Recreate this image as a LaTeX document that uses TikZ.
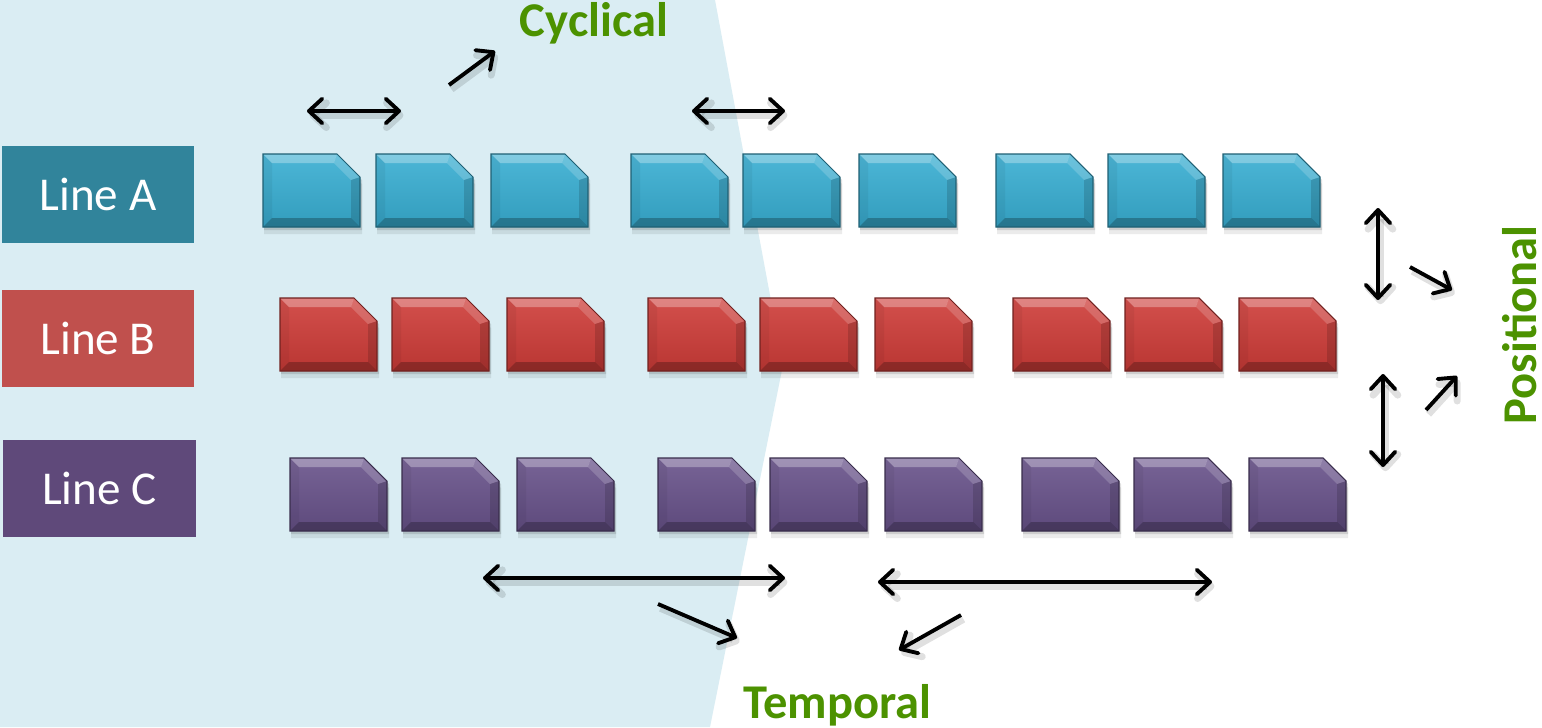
\documentclass[tikz,border=0pt]{standalone}
\usepackage{fontspec}
\setmainfont{Carlito}
\usetikzlibrary{arrows.meta}

\definecolor{paleblue}{RGB}{218,237,243}
\definecolor{grn}{RGB}{76,146,0}
\definecolor{boxA}{RGB}{49,132,155}
\definecolor{boxB}{RGB}{192,80,77}
\definecolor{boxC}{RGB}{95,73,122}
\definecolor{tileA}{RGB}{56,174,210}
\definecolor{tileB}{RGB}{206,60,56}
\definecolor{tileC}{RGB}{104,82,138}

\tikzset{
  linebox/.style={rectangle, inner sep=0pt, minimum width=1.92cm, minimum height=0.97cm,
    text=white, font=\fontsize{13.4}{16}\selectfont},
  tag/.style={text=grn, inner sep=0pt, font=\fontsize{13.8}{16}\selectfont\bfseries},
  shadowed/.style={preaction={draw=black, opacity=0.12, line width=2pt,
    transform canvas={shift={(0.7pt,-1.2pt)}}}},
  arr/.style={shadowed, line width=1.1pt, -{Straight Barb[length=3.8pt,width=7pt,round]}},
  dbl/.style={shadowed, line width=1.1pt,
    {Straight Barb[length=3.8pt,width=7pt,round]}-{Straight Barb[length=3.8pt,width=7pt,round]}},
}

% one bevelled tile with a cut top-right corner; #1 name, #2/#3 top-left corner, #4 colour
\newcommand\tile[4]{%
  \begin{scope}[shift={(#2,#3)}]
    \fill[black,opacity=0.08] (1,7) -- (76,7) -- (99,30) -- (99,80) -- (1,80) -- cycle;
    \fill[black,opacity=0.12] (1,3) -- (76,3) -- (99,26) -- (99,76) -- (1,76) -- cycle;
    \shade[top color=#4!90!white, bottom color=#4!90!black]
      (0,0) -- (74,0) -- (97,23) -- (97,73) -- (0,73) -- cycle;
    \fill[white,opacity=0.30] (0,0) -- (74,0) -- (71,9) -- (9,9) -- cycle;
    \fill[white,opacity=0.18] (74,0) -- (97,23) -- (88,26) -- (71,9) -- cycle;
    \fill[black,opacity=0.14] (97,23) -- (97,73) -- (88,64) -- (88,26) -- cycle;
    \fill[black,opacity=0.25] (97,73) -- (0,73) -- (9,64) -- (88,64) -- cycle;
    \fill[black,opacity=0.05] (0,73) -- (0,0) -- (9,9) -- (9,64) -- cycle;
    \draw[#4!55!black,line width=0.3pt]
      (0,0) -- (74,0) -- (97,23) -- (97,73) -- (0,73) -- cycle;
    \coordinate (#1) at (48.5,36.5);
  \end{scope}}

\begin{document}
\begin{tikzpicture}[x=0.01cm,y=-0.01cm]
  \useasboundingbox (0,0) rectangle (1542,727);
  \fill[white] (0,0) rectangle (1542,727);
  % shaded background wedge
  \fill[paleblue] (0,0) -- (715,0) -- (783,365) -- (710,727) -- (0,727) -- cycle;

  % row labels
  \node[linebox, fill=boxA] (lineA) at (98,194.5) {Line A};
  \node[linebox, fill=boxB] (lineB) at (98,338.5) {Line B};
  \node[linebox, fill=boxC, minimum width=1.93cm] (lineC) at (99.5,488.5) {Line C};

  % tiles
  \foreach \x [count=\i] in {263,376,491,631,743,859,996,1108,1223}
    {\tile{a\i}{\x}{154}{tileA}}
  \foreach \x [count=\i] in {280,392,507,648,760,875,1013,1125,1239}
    {\tile{b\i}{\x}{298}{tileB}}
  \foreach \x [count=\i] in {290,402,517,658,770,885,1022,1134,1249}
    {\tile{c\i}{\x}{458}{tileC}}

  % labels of the three kinds of variation
  \node[tag, anchor=base] (cyc) at (594,36) {Cyclical};
  \node[tag, anchor=base] (tmp) at (837.5,718) {Temporal};
  \node[tag, anchor=base, rotate=90] (pos) at (1536,325) {Positional};

  % arrow end points
  \coordinate (c1l) at (307,111);  \coordinate (c1r) at (401,111);
  \coordinate (c2l) at (692,111);  \coordinate (c2r) at (785,111);
  \coordinate (cd0) at (449,85);   \coordinate (cd1) at (495,51);
  \coordinate (t1l) at (483,578);  \coordinate (t1r) at (785,578);
  \coordinate (t2l) at (878,582);  \coordinate (t2r) at (1212,582);
  \coordinate (td0) at (658,604);  \coordinate (td1) at (737,638);
  \coordinate (te0) at (961,615);  \coordinate (te1) at (899,650);
  \coordinate (p1t) at (1378,208); \coordinate (p1b) at (1378,300);
  \coordinate (p2t) at (1383,374); \coordinate (p2b) at (1383,467);
  \coordinate (pd0) at (1410,267); \coordinate (pd1) at (1452,290);
  \coordinate (pe0) at (1426,410); \coordinate (pe1) at (1457,376);

  % arrows
  \draw[dbl] (c1l) -- (c1r);
  \draw[dbl] (c2l) -- (c2r);
  \draw[arr] (cd0) -- (cd1);
  \draw[dbl] (t1l) -- (t1r);
  \draw[dbl] (t2l) -- (t2r);
  \draw[arr] (td0) -- (td1);
  \draw[arr] (te0) -- (te1);
  \draw[dbl] (p1t) -- (p1b);
  \draw[dbl] (p2t) -- (p2b);
  \draw[arr] (pd0) -- (pd1);
  \draw[arr] (pe0) -- (pe1);
\end{tikzpicture}
\end{document}
